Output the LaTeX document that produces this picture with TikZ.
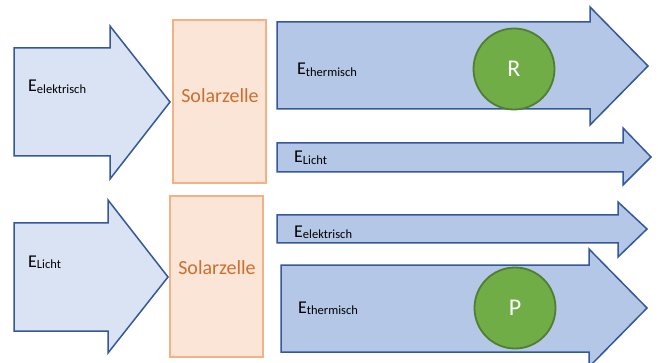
\documentclass[tikz,border=0pt]{standalone}
\usepackage{fontspec}
\setmainfont{Carlito}
\definecolor{lfill}{HTML}{DAE3F3}
\definecolor{rfill}{HTML}{B4C7E7}
\definecolor{adraw}{HTML}{34589A}
\definecolor{sfill}{HTML}{FBE5D6}
\definecolor{sdraw}{HTML}{F4B183}
\definecolor{stext}{HTML}{CD6E2E}
\definecolor{cfill}{HTML}{70AD47}
\definecolor{cdraw}{HTML}{507E32}
\newcommand\Elab[1]{{\fontsize{18}{18}\selectfont E}\raisebox{-1.5pt}{\fontsize{12.5}{12.5}\selectfont #1}}
\tikzset{
  inarrow/.style={fill=lfill, draw=adraw, line width=1.5pt, line join=miter},
  outarrow/.style={fill=rfill, draw=adraw, line width=1.5pt, line join=miter},
  solarbox/.style={fill=sfill, draw=sdraw, line width=1.5pt},
  solartext/.style={text=stext, font=\fontsize{20}{20}\selectfont, inner sep=0pt},
  elabel/.style={anchor=base west, inner sep=0pt},
  marker/.style={circle, fill=cfill, draw=cdraw, line width=1.8pt, minimum size=81pt, inner sep=0pt, text=white, font=\fontsize{24}{24}\selectfont}
}
\begin{document}
\begin{tikzpicture}[x=1pt,y=-1pt]
\useasboundingbox (0,0) rectangle (658,363);
\clip (0,0) rectangle (658,363);
% top row
\draw[inarrow] (14,48) -- (110,48) -- (110,26) -- (170,102) -- (110,179) -- (110,156) -- (14,156) -- cycle;
\draw[solarbox] (173,20) rectangle (266,183);
\node[solartext] (s1) at (220,96) {Solarzelle};
\node[elabel] (l1) at (28,92) {\Elab{elektrisch}};
\draw[outarrow] (277,22) -- (590,22) -- (590,7) -- (648,66) -- (590,125) -- (590,109) -- (277,109) -- cycle;
\node[elabel] (l2) at (297,75) {\Elab{thermisch}};
\node[marker] (r) at (514,69) {R};
\draw[outarrow] (277,143) -- (623,143) -- (623,128) -- (651,157) -- (623,185) -- (623,172) -- (277,172) -- cycle;
\node[elabel] (l3) at (294,163) {\Elab{Licht}};
% bottom row
\draw[inarrow] (14,223) -- (108,223) -- (108,200) -- (168,277) -- (108,353) -- (108,331) -- (14,331) -- cycle;
\draw[solarbox] (170,196) rectangle (263,357);
\node[solartext] (s2) at (217,268) {Solarzelle};
\node[elabel] (l4) at (28,267) {\Elab{Licht}};
\draw[outarrow] (277,215) -- (618,215) -- (618,202) -- (647,229) -- (618,257) -- (618,243) -- (277,243) -- cycle;
\node[elabel] (l5) at (294,237) {\Elab{elektrisch}};
\draw[outarrow] (281,265) -- (589,265) -- (589,249) -- (647,308) -- (589,367) -- (589,352) -- (281,352) -- cycle;
\node[elabel] (l6) at (298,313) {\Elab{thermisch}};
\node[marker] (p) at (515,308) {P};
\end{tikzpicture}
\end{document}
